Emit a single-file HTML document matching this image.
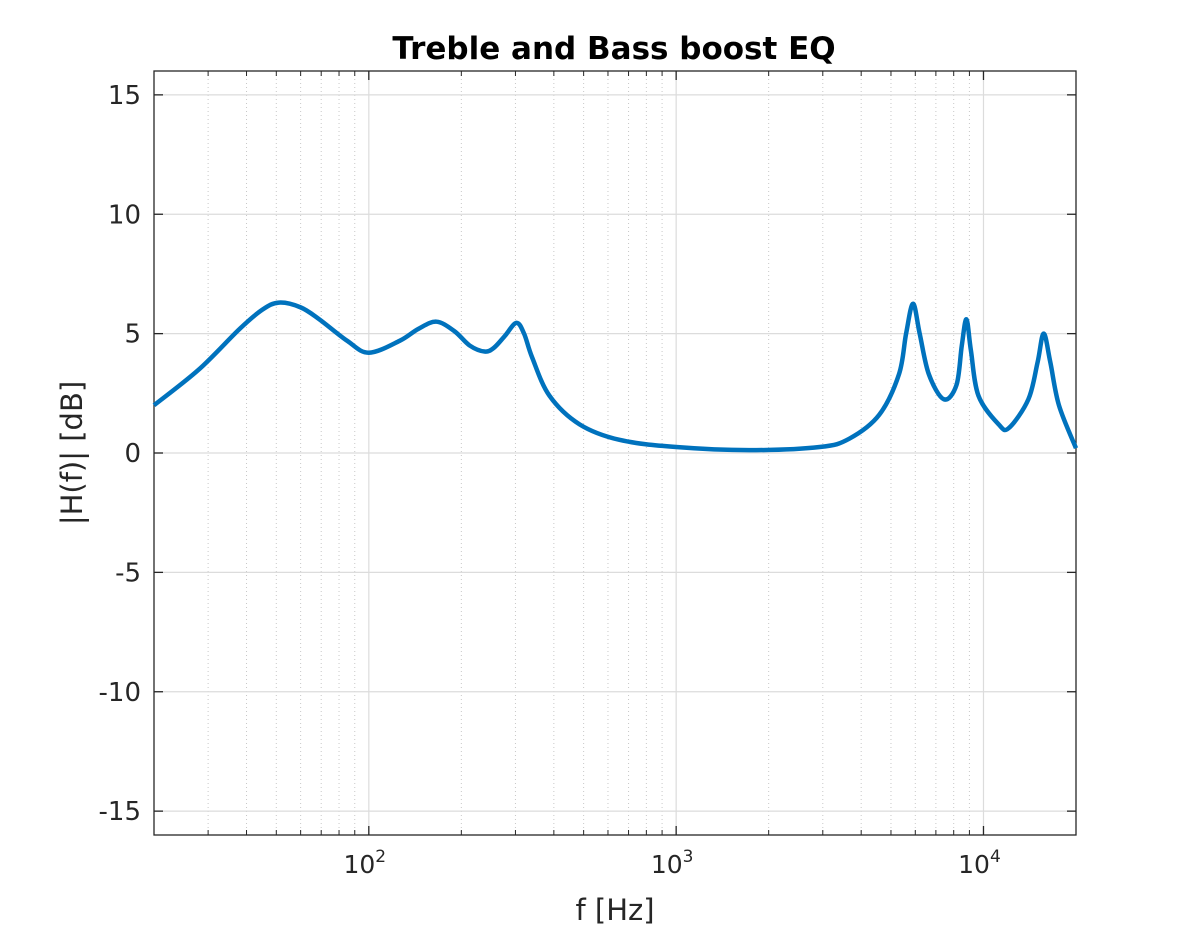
<!DOCTYPE html>
<html><head><meta charset="utf-8"><style>
html,body{margin:0;padding:0;background:#fff;}
svg text{font-family:"DejaVu Sans","Liberation Sans",sans-serif;fill:#262626;}
</style></head><body>
<svg id="chart" width="1188" height="938">
<text x="614" y="59" text-anchor="middle" font-size="31" font-weight="bold" style="fill:#000">Treble and Bass boost EQ</text>
<g id="grid"></g>
<g id="axes"></g>
<path id="curve" fill="none" stroke="#0072BD" stroke-width="4.5" stroke-linejoin="round"/>
<text x="615" y="920" text-anchor="middle" font-size="29">f [Hz]</text>
<text transform="translate(82,453) rotate(-90)" text-anchor="middle" font-size="29">|H(f)| [dB]</text>
</svg>
<script>
const freqs=[20,28,38,45,51,60,69,85,100,126,145,166,190,213,238,255,277,302,320,340,387,485,654,1000,1730,2930,3660,4580,5310,5600,5900,6200,6640,7430,8170,8500,8800,9100,9630,11200,12100,14000,15000,15700,16500,17600,20000];
const gains=[2.0,3.5,5.2,6.0,6.3,6.1,5.6,4.7,4.2,4.7,5.2,5.5,5.1,4.5,4.25,4.4,4.9,5.45,5.0,4.0,2.4,1.2,0.55,0.25,0.12,0.25,0.6,1.6,3.3,5.0,6.25,5.0,3.3,2.25,2.85,4.5,5.6,4.3,2.4,1.2,1.05,2.25,3.8,5.0,3.8,2.0,0.2];
const yTicks=[-15,-10,-5,0,5,10,15];
const xDecades=[2,3,4];
const L=154,R=1076,T=71,B=835;
const xmin=Math.log10(20),xmax=Math.log10(20000),ymin=-16,ymax=16;
const X=f=>L+(Math.log10(f)-xmin)/(xmax-xmin)*(R-L);
const Y=v=>B-(v-ymin)/(ymax-ymin)*(B-T);
const NS='http://www.w3.org/2000/svg';
const grid=document.getElementById('grid'),axes=document.getElementById('axes');
function el(tag,attrs,parent,txt){const e=document.createElementNS(NS,tag);for(const k in attrs)e.setAttribute(k,attrs[k]);if(txt!==undefined)e.textContent=txt;parent.appendChild(e);return e;}
for(let d=1;d<=4;d++){for(let m=2;m<=9;m++){const f=m*Math.pow(10,d);if(f<20||f>20000)continue;const x=X(f);
const g=el('line',{x1:x,x2:x,y1:T,y2:B,stroke:'#c8c8c8','stroke-width':1,'stroke-dasharray':'1,3'},grid);


el('line',{x1:x,x2:x,y1:B,y2:B-5,stroke:'#262626','stroke-width':1},axes);
el('line',{x1:x,x2:x,y1:T,y2:T+5,stroke:'#262626','stroke-width':1},axes);}}
xDecades.forEach(d=>{const x=X(Math.pow(10,d));
const g=el('line',{x1:x,x2:x,y1:T,y2:B,stroke:'#dcdcdc','stroke-width':1.2},grid);


el('line',{x1:x,x2:x,y1:B,y2:B-9,stroke:'#262626','stroke-width':1.3},axes);
el('line',{x1:x,x2:x,y1:T,y2:T+9,stroke:'#262626','stroke-width':1.3},axes);
const t=el('text',{x:x-4,y:B+38,'text-anchor':'middle','font-size':25},axes,'10');


el('tspan',{dy:-11,'font-size':17},t,String(d));});
yTicks.forEach(v=>{const y=Y(v);
const g=el('line',{x1:L,x2:R,y1:y,y2:y,stroke:'#dcdcdc','stroke-width':1.2},grid);


el('line',{x1:L,x2:L+9,y1:y,y2:y,stroke:'#262626','stroke-width':1.3},axes);
el('line',{x1:R,x2:R-9,y1:y,y2:y,stroke:'#262626','stroke-width':1.3},axes);
const t=el('text',{x:L-13,y:y+9,'text-anchor':'end','font-size':26},axes,String(v));

});
const box=el('rect',{x:L,y:T,width:R-L,height:B-T,fill:'none',stroke:'#262626','stroke-width':1.3},axes);


const P=freqs.map((f,i)=>[X(f),Y(gains[i])]);
let d='M'+P[0][0]+','+P[0][1];
for(let i=0;i<P.length-1;i++){const p0=P[Math.max(0,i-1)],p1=P[i],p2=P[i+1],p3=P[Math.min(P.length-1,i+2)];
const c1=[p1[0]+(p2[0]-p0[0])/6,p1[1]+(p2[1]-p0[1])/6],c2=[p2[0]-(p3[0]-p1[0])/6,p2[1]-(p3[1]-p1[1])/6];
d+=' C'+c1+' '+c2+' '+p2;}
document.getElementById('curve').setAttribute('d',d);
</script>
</body></html>
